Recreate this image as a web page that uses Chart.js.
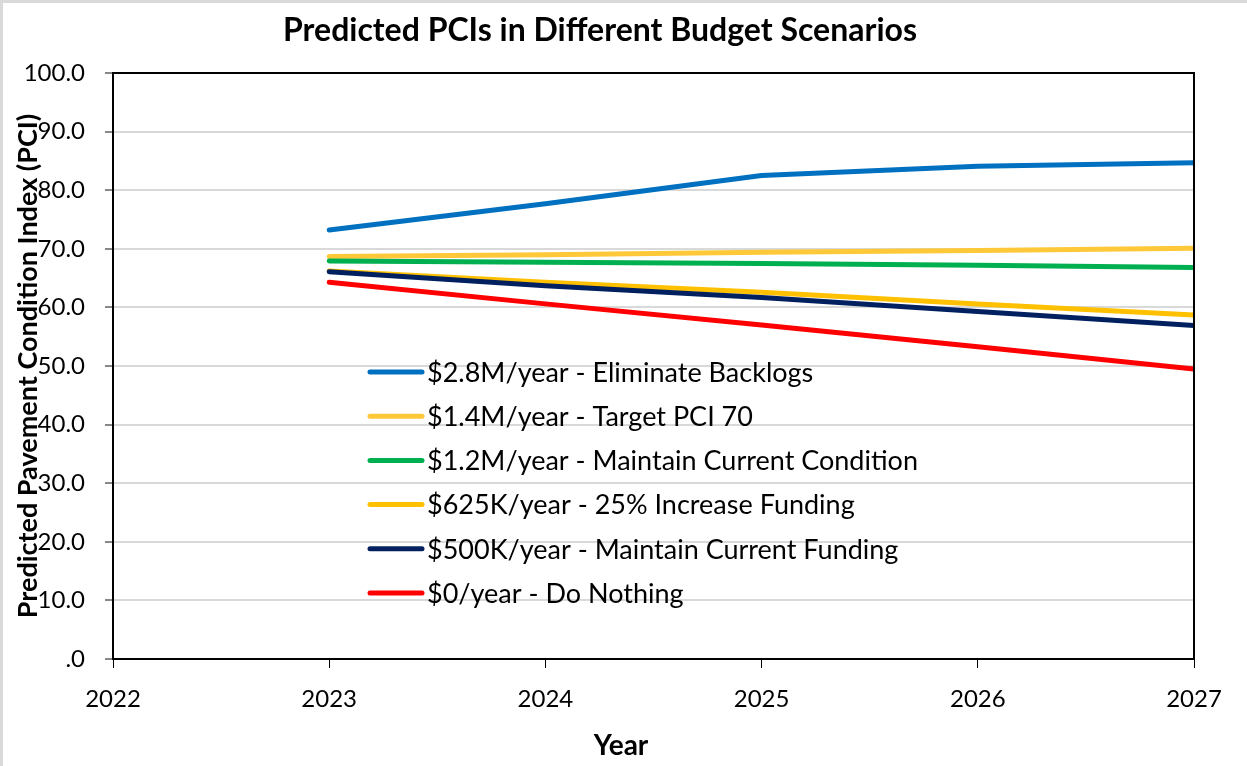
<!DOCTYPE html>
<html>
<head>
<meta charset="utf-8">
<script src="https://cdn.jsdelivr.net/npm/chart.js@4.4.0/dist/chart.umd.min.js"></script>
<style>
  html, body { margin: 0; padding: 0; background: #ffffff; }
  #wrap { width: 1247px; height: 766px; position: relative; }
</style>
</head>
<body>
<div id="wrap"><canvas id="c"></canvas></div>
<script>
const years = [2023, 2024, 2025, 2026, 2027];
const seriesNames = [
  "$2.8M/year - Eliminate Backlogs",
  "$1.4M/year - Target PCI 70",
  "$1.2M/year - Maintain Current Condition",
  "$625K/year - 25% Increase Funding",
  "$500K/year - Maintain Current Funding",
  "$0/year - Do Nothing"
];
const elim = [73.2, 77.7, 82.5, 84.1, 84.7];
const target70 = [68.7, 69.0, 69.4, 69.7, 70.1];
const maintainCond = [67.9, 67.7, 67.5, 67.2, 66.8];
const increase25 = [66.2, 64.3, 62.6, 60.6, 58.7];
const maintainFund = [66.1, 63.7, 61.7, 59.3, 56.9];
const doNothing = [64.3, 60.6, 57.0, 53.3, 49.5];
const seriesColors = ["#0070C0", "#FFC839", "#00B050", "#FFC000", "#002060", "#FF0000"];
const yTicks = [0, 10, 20, 30, 40, 50, 60, 70, 80, 90, 100];
const xTicks = [2022, 2023, 2024, 2025, 2026, 2027];
const chartTitle = "Predicted PCIs in Different Budget Scenarios";
const xTitle = "Year";
const yTitle = "Predicted Pavement Condition Index (PCI)";

const FONT = "Lato, 'Open Sans', sans-serif";
const allSeries = [elim, target70, maintainCond, increase25, maintainFund, doNothing];

const datasets = allSeries.map((vals, i) => ({
  label: seriesNames[i],
  data: years.map((y, j) => ({ x: y, y: vals[j] })),
  borderColor: seriesColors[i],
  backgroundColor: seriesColors[i],
  borderWidth: 5,
  pointRadius: 0,
  tension: 0,
  borderCapStyle: 'round',
  borderJoinStyle: 'round',
  order: allSeries.length - i
}));

const decor = {
  id: 'decor',
  beforeDraw(chart) {
    const ctx = chart.ctx;
    ctx.save();
    ctx.fillStyle = '#ffffff';
    ctx.fillRect(0, 0, chart.width, chart.height);
    ctx.strokeStyle = '#d9d9d9';
    ctx.lineWidth = 3;
    ctx.beginPath();
    ctx.moveTo(1.5, chart.height);
    ctx.lineTo(1.5, 1.5);
    ctx.lineTo(chart.width, 1.5);
    ctx.stroke();
    ctx.restore();
  },
  afterDatasetsDraw(chart) {
    const ctx = chart.ctx;
    const a = chart.chartArea;
    ctx.save();
    ctx.strokeStyle = '#000000';
    ctx.lineWidth = 2;
    ctx.strokeRect(a.left, a.top, a.right - a.left, a.bottom - a.top);
    const lx = a.left + 255, ly0 = a.top + 299, step = 44.2;
    ctx.font = "27px " + FONT;
    ctx.textBaseline = 'middle';
    ctx.textAlign = 'left';
    chart.data.datasets.forEach((ds, i) => {
      const y = ly0 + i * step;
      ctx.strokeStyle = ds.borderColor;
      ctx.lineWidth = 5;
      ctx.lineCap = 'round';
      ctx.beginPath();
      ctx.moveTo(lx + 2, y);
      ctx.lineTo(lx + 54, y);
      ctx.stroke();
      ctx.fillStyle = '#000000';
      ctx.fillText(ds.label, lx + 59, y + 1);
    });
    ctx.font = "bold 32px " + FONT;
    ctx.textAlign = 'center';
    ctx.fillText(chartTitle, 600, 31);
    ctx.font = "bold 28px " + FONT;
    ctx.fillText(xTitle, 621, 746);
    ctx.font = "bold 27px " + FONT;
    ctx.translate(28, (a.top + a.bottom) / 2);
    ctx.rotate(-Math.PI / 2);
    ctx.fillText(yTitle, 0, 0);
    ctx.restore();
  }
};

new Chart(document.getElementById('c'), {
  type: 'line',
  data: { datasets },
  options: {
    responsive: true,
    maintainAspectRatio: false,
    animation: false,
    layout: { padding: { top: 73, left: 0, right: 53, bottom: 0 } },
    plugins: { legend: { display: false }, title: { display: false }, tooltip: { enabled: false } },
    scales: {
      x: {
        type: 'linear',
        min: xTicks[0],
        max: xTicks[xTicks.length - 1],
        afterBuildTicks(scale) { scale.ticks = xTicks.map(v => ({ value: v })); },
        afterFit(scale) { scale.height = 107; },
        border: { display: true, color: '#000000', width: 2 },
        grid: { drawOnChartArea: false, drawTicks: true, tickLength: 9, tickColor: '#000000', tickWidth: 1 },
        ticks: {
          font: { family: FONT, size: 24 },
          color: '#000000',
          padding: 17,
          callback: v => String(v)
        }
      },
      y: {
        min: 0,
        max: 100,
        afterBuildTicks(scale) { scale.ticks = yTicks.map(v => ({ value: v })); },
        afterFit(scale) { scale.width = 113; },
        border: { display: true, color: '#000000', width: 2 },
        grid: { color: '#d9d9d9', lineWidth: 2, drawTicks: true, tickLength: 8, tickColor: '#888888', tickWidth: 2 },
        ticks: {
          font: { family: FONT, size: 24 },
          color: '#000000',
          padding: 20,
          callback: v => (v === 0 ? '.0' : Number(v).toFixed(1))
        }
      }
    }
  },
  plugins: [decor]
});
</script>
</body>
</html>
